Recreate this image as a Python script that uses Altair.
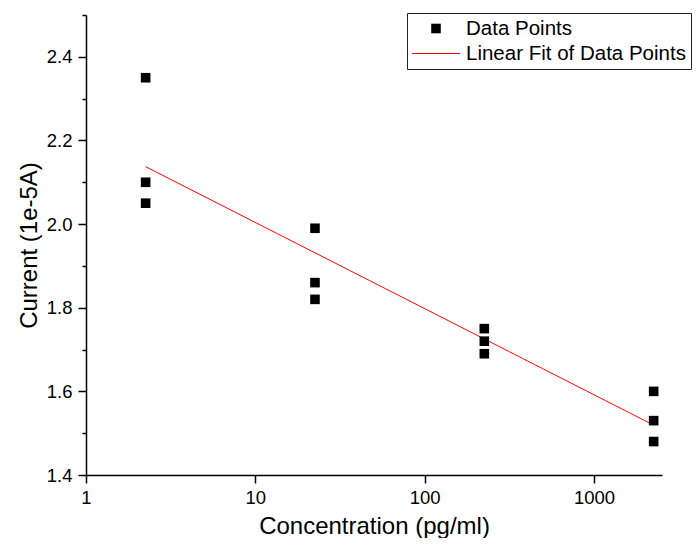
import altair as alt
import pandas as pd

# ---- data ----
concentration = [2.25, 2.25, 2.25, 22.5, 22.5, 22.5, 225, 225, 225, 2250, 2250, 2250]
current = [2.35, 2.10, 2.05, 1.99, 1.86, 1.82, 1.75, 1.72, 1.69, 1.60, 1.53, 1.48]
series_names = ["Data Points", "Linear Fit of Data Points"]
series_colors = ["#000000", "#ff0000"]
x_ticks = [1, 10, 100, 1000]
y_ticks = [1.4, 1.5, 1.6, 1.7, 1.8, 1.9, 2.0, 2.1, 2.2, 2.3, 2.4, 2.5]

df = pd.DataFrame({"conc": concentration, "current": current})

FONT = "Liberation Sans"
SQUARE = "M-0.2,-0.2H0.2V0.2H-0.2Z"
STROKE = "M-1,-0.021H1V0.021H-1Z"

x_enc = alt.X(
    "conc:Q",
    scale=alt.Scale(type="log", domain=[1, 2520], nice=False),
    axis=alt.Axis(
        values=x_ticks, format="d", title="Concentration (pg/ml)",
        labelFlush=False, labelOverlap=False, tickSize=8, labelPadding=5,
        titlePadding=8,
    ),
)
y_enc = alt.Y(
    "current:Q",
    scale=alt.Scale(domain=[1.4, 2.5], nice=False, zero=False),
    axis=alt.Axis(
        values=y_ticks, title="Current (1e-5A)",
        labelExpr="round(datum.value*10) % 2 == 0 ? format(datum.value, '.1f') : ''",
        tickSize={"condition": {"test": "round(datum.value*10) % 2 == 0", "value": 8}, "value": 4},
        labelPadding=6, titlePadding=5, labelOverlap=False, labelFlush=False,
    ),
)

legend = alt.Legend(title=None)

points = (
    alt.Chart(df)
    .transform_calculate(series="'Data Points'")
    .mark_point(filled=True, size=2304, opacity=1, strokeWidth=0)
    .encode(
        x=x_enc,
        y=y_enc,
        color=alt.Color("series:N", scale=alt.Scale(domain=series_names, range=series_colors),
                        legend=legend),
        shape=alt.Shape("series:N", scale=alt.Scale(domain=series_names, range=[SQUARE, STROKE]),
                        legend=legend),
    )
)

fit = (
    alt.Chart(df)
    .transform_regression("conc", "current", method="log")
    .mark_line(color="#ff0000", strokeWidth=1)
    .encode(x=x_enc, y=y_enc)
)

chart = (
    alt.layer(fit, points)
    .properties(
        width=576, height=460,
        autosize=alt.AutoSizeParams(type="none"),
        padding={"left": 78, "top": 7, "right": 30, "bottom": 63},
    )
    .configure_view(stroke=None)
    .configure_axis(
        grid=False, domainColor="black", domainWidth=1.5, tickColor="black", tickWidth=1.5,
        labelFont=FONT, labelFontSize=18.5, labelColor="black",
        titleFont=FONT, titleFontSize=24, titleFontWeight="normal", titleColor="black",
    )
    .configure_legend(
        orient="none", legendX=321, legendY=-2,
        strokeColor="#222222", fillColor="white", padding=5,
        symbolSize=2304, symbolStrokeWidth=0, symbolOpacity=1,
        labelFont=FONT, labelFontSize=20.5, labelColor="black", labelOffset=6,
        clipHeight=21, rowPadding=4, labelLimit=400,
    )
)

chart.save("out.html", embed_options={"renderer": "svg", "actions": False})
